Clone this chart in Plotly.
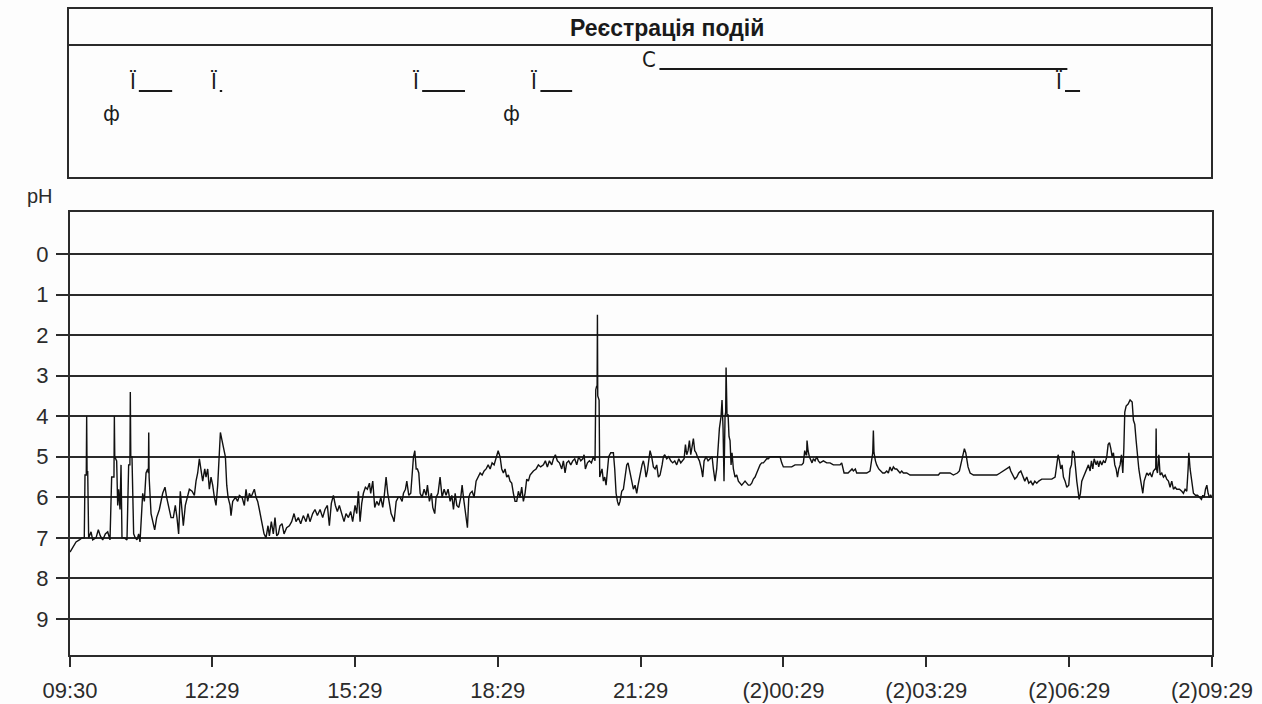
import plotly.graph_objects as go

# ---------------- pH trace (minutes since 09:30, pH) ----------------
t1 = [0, 3.4, 7.6, 11.8, 15, 18, 18.9, 20.5, 21, 21.5, 22.3, 23.5, 26.5, 28.6, 32.8, 35.7, 38.2, 41.2, 44.5, 47.5,
      50.4, 52.5, 55.4, 55.9, 56.4, 58.8, 60.1, 61.3, 63, 64.3, 65.5, 68.5, 71.8, 73.9, 75.5, 76, 76.6, 78.1, 80.2, 82.3,
      84.4, 86.5, 88.2, 89.9, 91.6, 93.7, 95.8, 97.9, 98.8, 99.2, 99.7, 102.1, 104.2, 106.7, 109.2, 112.6, 116.8, 119.7, 121.8, 125.2,
      127.3, 130.2, 132.7, 134.8, 136.9, 139, 141.1, 142.8, 145.3, 147.9, 150.4, 153.8, 156.7, 158.8, 160.9, 163, 165.1, 167.2, 169.8, 171.4,
      173.5, 175.6, 177.7, 179.8, 181.9, 184, 186.1, 188.3, 189.5, 191.6, 193.3, 195.8, 197.5, 199.2, 201.7, 202.9, 205, 208.4, 211.3, 213.4,
      216.8, 219.7, 221.8, 223.9, 226, 228.1, 230.2, 232.3, 234.4, 236.5, 238.6]
p1 = [7.35, 7.25, 7.1, 7.05, 7.0, 7.0, 5.45, 5.45, 4.0, 5.4, 5.35, 7.0, 6.85, 7.05, 7.0, 6.8, 6.95, 7.05, 6.9, 6.85,
      7.05, 5.5, 5.5, 4.0, 5.0, 5.1, 6.2, 5.8, 6.3, 5.2, 7.0, 7.0, 7.05, 5.2, 5.2, 3.4, 5.0, 5.0, 6.9, 7.0,
      7.05, 6.9, 7.1, 6.5, 5.9, 6.1, 5.4, 5.3, 5.4, 4.4, 5.5, 6.4, 6.6, 6.8, 6.5, 6.3, 5.9, 5.75, 6.0, 6.3,
      6.5, 6.5, 6.2, 6.5, 6.9, 5.85, 6.4, 6.7, 6.2, 6.0, 5.8, 5.85, 5.95, 5.6, 5.4, 5.05, 5.3, 5.6, 5.3, 5.5,
      5.3, 5.8, 5.5, 5.7, 6.0, 6.2, 5.7, 4.7, 4.4, 4.6, 4.8, 5.0, 5.7, 6.0, 6.2, 6.45, 6.1, 6.0, 6.1, 5.95,
      6.0, 6.2, 5.8, 6.1, 5.9, 6.0, 5.9, 5.8, 6.0, 6.1, 6.3]

t2 = [241.5, 244.5, 247, 249.5, 251.2, 253.7, 256.2, 258.3, 260.5, 262.5, 264.6, 267.2, 269.7, 273, 276.4, 279.3, 282.3, 284.8, 287.7, 290.7,
      294, 297.4, 299.9, 302.4, 305.8, 308.7, 311.7, 315.1, 318.4, 321.3, 324.3, 326.8, 329.3, 331.9, 334.4, 336.9, 339.4, 342.4, 345.3, 347.8,
      350.8, 353.7, 356.2, 359.2, 361.3, 363.4, 365.5, 367.6, 369.7, 372.2, 374.7, 377.3, 378.9, 381.5, 384, 386.5, 389.1, 391.6, 394.1, 395.8,
      398.3, 400.4, 402.5, 404.6, 406.8, 408.4, 411, 413.5, 416, 418.5, 420.2, 422.7, 424.4, 426.9, 429.4, 431.1, 432.8, 434.5, 436.2, 437.8,
      439.5, 441.2, 443.7, 446.2, 448.7, 450.4, 452.9, 455.4, 457.1, 459.6, 461.3, 463.8, 466.3, 468.9, 471.4, 473.9, 476.4, 479, 481.1, 483.2,
      485.3, 487.4, 489.9, 492.4, 494.1, 495.8, 497.5, 499.1, 500.8, 502.5, 504.2, 506.7, 509.2, 511.7, 514.2, 516.8, 519.3, 521.8, 524.3, 526.9,
      529.4, 531.9, 534.4, 537, 539.5]
p2 = [6.6, 6.9, 7.0, 6.7, 6.95, 6.6, 6.9, 6.5, 6.95, 6.9, 6.7, 6.65, 6.9, 6.75, 6.7, 6.6, 6.4, 6.6, 6.5, 6.65,
      6.45, 6.6, 6.4, 6.6, 6.4, 6.3, 6.45, 6.3, 6.5, 6.3, 6.2, 6.7, 6.15, 5.95, 6.2, 6.35, 6.2, 6.4, 6.6, 6.4,
      6.5, 6.35, 6.6, 6.2, 6.4, 5.85, 6.6, 6.15, 5.9, 5.75, 5.8, 5.65, 5.9, 5.6, 6.25, 6.1, 6.2, 6.0, 6.25, 6.0,
      5.5, 5.9, 6.2, 6.4, 6.5, 6.6, 6.1, 6.0, 6.0, 6.1, 5.9, 5.8, 5.6, 5.95, 5.9, 5.3, 5.0, 4.85, 5.3, 5.3,
      5.4, 5.9, 6.0, 5.8, 5.95, 5.7, 6.1, 5.9, 6.25, 6.4, 6.0, 5.9, 5.5, 6.0, 5.8, 5.95, 5.8, 6.1, 5.95, 6.3,
      5.9, 6.2, 6.25, 6.0, 5.7, 6.0, 6.3, 6.6, 6.75, 6.0, 5.9, 5.85, 6.0, 5.6, 5.5, 5.4, 5.45, 5.35, 5.3, 5.2,
      5.3, 5.15, 5.2, 5.0, 4.85]

t3 = [541.9, 544, 546.1, 548.2, 550.3, 552.4, 554.5, 556.6, 558.7, 560.8, 562.9, 565, 567.1, 569.2, 571.3, 573.4, 575.5, 577.6, 579.7, 581.8,
      583.9, 587.3, 590.2, 593.1, 596.5, 599, 601.5, 604.1, 607, 609.1, 611.6, 614.1, 616.7, 619.6, 621.7, 623.8, 625.9, 628.4, 631, 633.5,
      636, 638.5, 641, 643.6, 646.1, 647.8, 649.4, 652, 654.5, 657, 659.5, 661.6, 662.5, 663.7, 664.2, 664.6, 665.0, 666.7, 667.5, 668.8,
      670.4, 672.1, 673.8, 675.5, 677.2, 678.8, 681.4, 684.7, 686.4, 688.1, 689.8, 691.4, 693.1, 695.2, 697.3, 699.4, 701.5, 703.2, 704.9, 706.6,
      708.2, 709.9, 712, 714.1, 715.8, 717.5, 719.2, 720.8, 722.5, 724.2, 725.9, 727.6, 729.2, 730.9, 733, 735.1, 737.2, 739.3, 741.4, 743.5,
      746.1, 747.7, 749.4, 751.9, 754.4, 757, 759.5, 762, 764.5, 767.1, 769.6, 772.1, 773.8, 775.5, 777.1, 778.8, 780.5, 782.2, 783.9, 785.5,
      787.2, 788.9, 790.6, 793.1, 795.6, 797.3, 799, 801.5, 804, 806.6, 809.1, 810.7, 812.8, 814.9, 816.6, 818.3]
p3 = [5.0, 5.3, 5.4, 5.3, 5.5, 5.45, 5.6, 5.65, 5.9, 6.1, 6.1, 5.85, 6.0, 5.75, 6.1, 5.9, 5.55, 5.6, 5.45, 5.4,
      5.35, 5.3, 5.2, 5.25, 5.2, 5.1, 5.25, 5.1, 5.2, 5.05, 4.95, 5.1, 5.15, 5.3, 5.1, 5.4, 5.15, 5.1, 5.2, 5.1,
      5.05, 5.2, 5.0, 5.1, 5.05, 4.95, 5.3, 5.15, 5.1, 5.15, 5.0, 5.1, 3.35, 3.25, 3.3, 1.5, 3.5, 3.6, 5.5, 5.4,
      5.3, 5.6, 5.5, 5.7, 5.3, 5.0, 4.9, 4.9, 5.3, 5.9, 6.1, 6.2, 6.1, 5.85, 5.8, 5.5, 5.2, 5.15, 5.3, 5.5,
      5.6, 5.8, 5.7, 5.9, 5.7, 5.5, 5.35, 5.2, 5.1, 5.25, 5.5, 5.35, 5.1, 4.85, 5.0, 5.25, 5.3, 5.2, 5.5, 5.45,
      5.2, 5.0, 4.95, 5.05, 5.0, 5.1, 5.15, 5.1, 5.2, 5.05, 5.15, 5.1, 5.05, 4.7, 4.95, 4.85, 4.6, 4.95, 4.75, 4.55,
      4.85, 4.9, 5.0, 5.1, 5.3, 5.5, 5.1, 5.0, 5.1, 5.05, 5.0, 5.3, 5.6, 5.3, 4.8, 4.3]

t4 = [820.4, 821.6, 822.9, 824.1, 825.4, 826.2, 826.7, 827.2, 827.9, 829.2, 830.4, 831.7, 833, 834.2, 835.9, 838, 840.1, 842.2, 844.3, 846.4,
      848.5, 850.6, 852.7, 854.8, 856.9, 859, 861.1, 863.2, 865.3, 867.4, 869.5, 871.6, 873.7, 875.8, 877.9, 880, 882.1, 886.3, 890.5, 894.7,
      896.8, 898.9, 905.2, 909.4, 913.6, 917.8, 922, 924.1, 925.8, 927.5, 928.2, 928.7, 929.2, 930, 931.7, 933.4, 935, 936.7, 938.8, 940.9,
      943, 945.1, 949.3, 953.5, 957.7, 961.9, 966.1, 970.3, 972.4, 973.7, 975.4, 977.9, 980.4, 982.9, 985.4, 987.1, 989.6, 991.3, 995.5, 999.7,
      1003.9, 1008.1, 1010.2, 1011.5, 1012.3, 1013.1, 1014.9, 1016.5, 1019.1, 1021.6, 1024.1, 1026.6, 1029.1, 1031.2, 1033.3, 1035.4, 1037.5, 1039.6, 1041.7, 1043.8,
      1045.9, 1048, 1050.1, 1054.3, 1058.5, 1062.7, 1066.9, 1071.1, 1079.5, 1087.9, 1094.2, 1096.3, 1104.7, 1108.9, 1113.1, 1118.2, 1120.7, 1122.4, 1124.1, 1125.7,
      1127, 1128.7, 1129.9, 1131.6]
p4 = [4.0, 3.6, 4.3, 5.6, 4.0, 3.9, 2.8, 3.9, 4.0, 3.95, 4.5, 4.6, 5.2, 4.9, 5.3, 5.5, 5.45, 5.6, 5.65, 5.7,
      5.65, 5.6, 5.65, 5.7, 5.7, 5.65, 5.55, 5.5, 5.4, 5.3, 5.2, 5.15, 5.15, 5.1, 5.05, 5.05, 5.0, 5.0, 5.0, 5.0,
      5.15, 5.25, 5.25, 5.25, 5.2, 5.2, 5.2, 5.15, 4.85, 4.95, 4.95, 4.6, 4.85, 4.85, 5.0, 5.1, 5.15, 5.05, 5.1, 5.0,
      5.1, 5.15, 5.1, 5.15, 5.15, 5.2, 5.2, 5.2, 5.15, 5.3, 5.4, 5.4, 5.4, 5.35, 5.3, 5.35, 5.3, 5.4, 5.4, 5.4,
      5.4, 5.35, 5.0, 4.9, 4.35, 4.9, 5.1, 5.2, 5.3, 5.35, 5.4, 5.4, 5.35, 5.4, 5.25, 5.35, 5.25, 5.3, 5.3, 5.35,
      5.4, 5.35, 5.4, 5.4, 5.45, 5.45, 5.45, 5.45, 5.45, 5.45, 5.45, 5.4, 5.4, 5.4, 5.45, 5.4, 5.35, 5.2, 5.05, 4.95,
      4.8, 4.9, 5.1, 5.25]

t5 = [1134.2, 1138.4, 1142.6, 1151, 1159.4, 1167.8, 1172, 1176.2, 1180.4, 1183.8, 1185.4, 1188, 1190.5, 1193, 1195.5, 1198.1, 1200.6, 1203.1, 1205.6, 1208.1,
      1210.7, 1213.2, 1215.7, 1218.2, 1220.7, 1224.5, 1228.7, 1232.9, 1237.1, 1241.3, 1243.4, 1245.1, 1246.8, 1248.4, 1250.1, 1251.8, 1253.9, 1256, 1258.5, 1260.2,
      1261.9, 1263.2, 1265.3, 1266.9, 1268.6, 1270.3, 1271.6, 1273.2, 1274.9, 1277, 1279.1, 1281.2, 1283.3, 1285.4, 1287.1, 1288.8, 1290.5, 1293, 1294.7, 1296.3,
      1298, 1300.1, 1302.2, 1304.3, 1306.4, 1308.1, 1309.8, 1311.5, 1313.2, 1314.8, 1316.5, 1318.2, 1319.9, 1321.5, 1323.2, 1324.9, 1326.6, 1327.9, 1329.1, 1330.8,
      1333.3, 1335.8, 1338.4, 1340, 1341.7, 1343.4, 1345.1, 1346.8, 1348.4, 1350.1, 1351.8, 1353.5, 1355.2, 1356.8, 1358.9, 1361, 1363.1, 1365.2, 1367.3, 1368.1,
      1368.6, 1369.1, 1370.3, 1372, 1373.6, 1375.7, 1377.8, 1379.9, 1382, 1384.1, 1386.2, 1388.3, 1390.4, 1392.5, 1394.6, 1398, 1400.9, 1403, 1405.1, 1407.2,
      1408.9, 1409.8, 1411.4, 1413.5, 1415.6, 1418.2, 1420.7, 1423.2, 1425.7, 1427.4, 1429.1, 1430.8, 1432.5, 1434.1, 1435.8, 1437.5, 1439]
p5 = [5.4, 5.45, 5.45, 5.45, 5.45, 5.45, 5.4, 5.35, 5.3, 5.25, 5.35, 5.45, 5.55, 5.5, 5.4, 5.35, 5.5, 5.6, 5.5, 5.65,
      5.6, 5.7, 5.6, 5.65, 5.6, 5.55, 5.55, 5.55, 5.55, 5.5, 5.2, 4.95, 5.1, 5.3, 5.2, 5.5, 5.6, 5.75, 5.7, 5.3,
      5.2, 4.85, 4.9, 5.3, 5.6, 5.85, 6.05, 5.9, 5.6, 5.5, 5.4, 5.3, 5.2, 5.35, 5.1, 5.3, 5.05, 5.2, 5.1, 5.25,
      5.1, 5.2, 5.1, 5.15, 5.0, 4.7, 4.65, 4.8, 5.0, 4.9, 5.2, 5.3, 5.5, 5.3, 5.2, 4.95, 5.4, 4.8, 3.9, 3.75,
      3.7, 3.6, 3.65, 4.1, 4.2, 4.6, 5.0, 5.3, 5.5, 5.7, 5.9, 5.6, 5.5, 5.4, 5.45, 5.4, 5.5, 5.35, 5.3, 5.3,
      4.3, 5.3, 5.4, 4.95, 5.45, 5.4, 5.5, 5.45, 5.55, 5.6, 5.75, 5.6, 5.8, 5.75, 5.8, 5.8, 5.85, 5.9, 5.8, 5.85,
      5.3, 4.9, 5.3, 5.6, 5.9, 5.95, 5.95, 6.0, 6.05, 5.95, 6.0, 5.8, 5.7, 5.9, 6.0, 5.95, 6.0]

minutes = t1 + t2 + t3 + t4 + t5
ph = p1 + p2 + p3 + p4 + p5
assert len(minutes) == len(ph)

# ---------------- axis ticks ----------------
tick_minutes = [0, 179, 359, 539, 719, 899, 1079, 1259, 1439]
tick_labels = ["09:30", "12:29", "15:29", "18:29", "21:29", "(2)00:29", "(2)03:29", "(2)06:29", "(2)09:29"]
ph_ticks = [0, 1, 2, 3, 4, 5, 6, 7, 8, 9]

# ---------------- events (Реєстрація подій) ----------------
event_labels = ["ф", "Ї", "Ї", "Ї", "ф", "Ї", "С", "Ї"]
event_start = [53, 88, 190, 445, 557, 594, 744, 1255]
event_end = [53, 130, 193, 499, 557, 634, 1258, 1274]
event_row = [1, 2, 2, 2, 1, 2, 3, 2]

W, H = 1262, 704
INK = "#2b2b2b"
FONT = "Liberation Sans"
EVFONT = "Liberation Sans Narrow, DejaVu Sans Condensed, Liberation Sans"

def px_x(p):
    return p / W

def px_y(p):
    return 1 - p / H

fig = go.Figure()

fig.add_trace(go.Scatter(x=minutes, y=ph, mode="lines",
                         line=dict(color="#111111", width=1.4),
                         xaxis="x", yaxis="y", showlegend=False, hoverinfo="skip"))

annotations = []
for lab, s, e, r in zip(event_labels, event_start, event_end, event_row):
    if e > s:
        fig.add_trace(go.Scatter(x=[s, e], y=[r, r], mode="lines",
                                 line=dict(color="#1a1a1a", width=2),
                                 xaxis="x2", yaxis="y2", showlegend=False, hoverinfo="skip"))
        annotations.append(dict(x=s, y=r, xref="x2", yref="y2", text=lab, showarrow=False,
                                xanchor="right", yanchor="bottom", xshift=-1, yshift=-5,
                                font=dict(family=EVFONT, size=22, color="#1a1a1a")))
    else:
        annotations.append(dict(x=s, y=r, xref="x2", yref="y2", text=lab, showarrow=False,
                                xanchor="center", yanchor="middle",
                                font=dict(family=EVFONT, size=22, color="#1a1a1a")))

annotations.append(dict(x=px_x(667), y=px_y(28), xref="paper", yref="paper", text="<b>Реєстрація подій</b>",
                        showarrow=False, xanchor="center", yanchor="middle",
                        font=dict(family=FONT, size=23, color="#1a1a1a")))
annotations.append(dict(x=px_x(40), y=px_y(196), xref="paper", yref="paper", text="pH",
                        showarrow=False, xanchor="center", yanchor="middle",
                        font=dict(family=FONT, size=20, color=INK)))

shapes = [dict(type="line", xref="paper", yref="paper", x0=px_x(69), x1=px_x(1211), y0=px_y(45), y1=px_y(45),
               line=dict(color=INK, width=2))]

fig.update_layout(
    width=W, height=H,
    margin=dict(l=0, r=0, t=0, b=0, pad=0),
    paper_bgcolor="#fdfdfd", plot_bgcolor="#fdfdfd",
    showlegend=False,
    annotations=annotations, shapes=shapes,
    xaxis=dict(domain=[px_x(70), px_x(1212)], range=[0, 1439], tickmode="array", automargin=False,
               tickvals=tick_minutes, ticktext=tick_labels, ticks="outside", ticklen=10, tickwidth=2,
               tickcolor=INK, showgrid=False, zeroline=False, showline=True, mirror=True,
               linecolor=INK, linewidth=2, tickfont=dict(family=FONT, size=22, color=INK),
               ticklabelstandoff=5, anchor="y"),
    yaxis=dict(domain=[px_y(655), px_y(212)], range=[9.887, -1.035], tickmode="array", automargin=False,
               tickvals=ph_ticks, ticktext=[str(v) for v in ph_ticks], ticks="outside", ticklen=12, tickwidth=2,
               tickcolor=INK, showgrid=True, gridcolor=INK, gridwidth=2, zeroline=False,
               showline=True, mirror=True, linecolor=INK, linewidth=2,
               tickfont=dict(family=FONT, size=22, color=INK), ticklabelstandoff=3, anchor="x"),
    xaxis2=dict(domain=[px_x(69), px_x(1211)], range=[0, 1439], showticklabels=False, ticks="", automargin=False,
                showgrid=False, zeroline=False, showline=True, mirror=True, linecolor=INK, linewidth=2,
                anchor="y2"),
    yaxis2=dict(domain=[px_y(177), px_y(9)], range=[-1.909, 5.727], showticklabels=False, ticks="", automargin=False,
                showgrid=False, zeroline=False, showline=True, mirror=True, linecolor=INK, linewidth=2,
                anchor="x2"),
)

fig.write_html("out.html", config={"displayModeBar": False},
               post_script="document.body.style.margin='0px';")
